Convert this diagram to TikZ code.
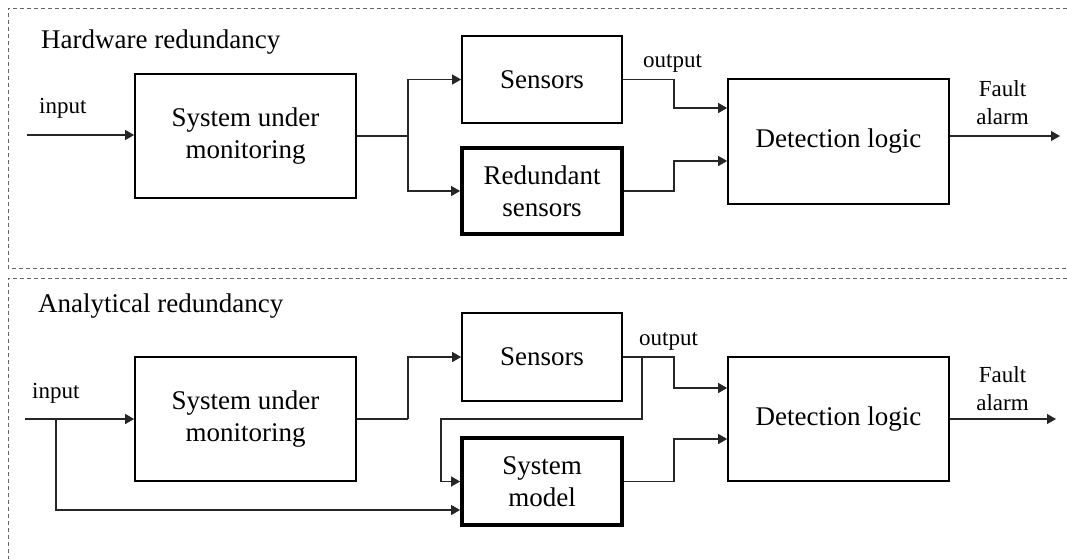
\documentclass[tikz,border=0pt]{standalone}
\usepackage{fontspec}
\setmainfont{Liberation Serif}
\usetikzlibrary{arrows.meta}
\begin{document}
\begin{tikzpicture}[x=1pt,y=-1pt,
  blk/.style={draw=black, line width=1.7pt, align=center, inner sep=0pt,
              font=\fontsize{27}{32}\selectfont},
  thickblk/.style={blk, line width=3.8pt},
  conn/.style={line width=1.2pt, draw=black!85},
  arr/.style={conn, -{Triangle[length=9pt,width=10pt]}},
  lbl/.style={font=\fontsize{23}{27.5}\selectfont, inner sep=0pt},
  ttl/.style={font=\fontsize{27}{32}\selectfont, inner sep=0pt},
  frame/.style={draw=black!60, line width=1pt, dash pattern=on 4pt off 3pt}]
\useasboundingbox (0,0) rectangle (1067,558);

% ---------- dashed section frames ----------
\draw[frame] (1067,8) -- (8,8) -- (8,268) -- (1067,268);
\draw[frame] (1067,278) -- (8,278) -- (8,560);

% ================= Hardware redundancy =================
\node[ttl, anchor=base west] (t1) at (41,48) {Hardware redundancy};

\node[blk, minimum width=221pt, minimum height=124pt] (sum1) at (245.5,136) {System under\\monitoring};
\node[blk, minimum width=160pt, minimum height=87pt] (sen1) at (542,79.5) {Sensors};
\node[thickblk, minimum width=160pt, minimum height=86pt] (red1) at (542,191) {Redundant\\sensors};
\node[blk, minimum width=221pt, minimum height=125pt] (dl1) at (838.5,141.5) {Detection logic};

\node[lbl, anchor=base west] (in1l) at (39,113) {input};
\node[lbl, anchor=base west] (out1l) at (643,67) {output};
\node[lbl, align=center] (fa1) at (1002.5,102.5) {Fault\\alarm};

\coordinate (in1) at (27,135);
\coordinate (br1) at (408,136);
\coordinate (j1) at (674,108);
\coordinate (j2) at (674,161);
\coordinate (o1) at (1060,136);

\draw[arr] (in1) -- (in1 -| sum1.west);
\draw[conn] (sum1.east) -- (br1);
\draw[arr] (br1) |- (sen1.west);
\draw[arr] (br1) |- (red1.west);
\draw[arr] (sen1.east) -| (j1) -- (j1 -| dl1.west);
\draw[arr] (red1.east) -| (j2) -- (j2 -| dl1.west);
\draw[arr] (o1 -| dl1.east) -- (o1);

% ================= Analytical redundancy =================
\node[ttl, anchor=base west] (t2) at (38,312) {Analytical redundancy};

\node[blk, minimum width=221pt, minimum height=124pt] (sum2) at (245.5,419) {System under\\monitoring};
\node[blk, minimum width=160pt, minimum height=88pt] (sen2) at (542,357) {Sensors};
\node[thickblk, minimum width=160pt, minimum height=87pt] (sm2) at (542,481.5) {System\\model};
\node[blk, minimum width=221pt, minimum height=124pt] (dl2) at (838.5,419) {Detection logic};

\node[lbl, anchor=base west] (in2l) at (32,398) {input};
\node[lbl, anchor=base west] (out2l) at (639,345) {output};
\node[lbl, align=center] (fa2) at (1002.5,388.5) {Fault\\alarm};

\coordinate (in2) at (25,419);
\coordinate (ib1) at (56,419);
\coordinate (ib2) at (56,510);
\coordinate (br2) at (408,419);
\coordinate (tap) at (642,357);
\coordinate (fb1) at (642,419);
\coordinate (fb2) at (441,419);
\coordinate (j3) at (674,388);
\coordinate (j4) at (674,439);
\coordinate (o2) at (1056,419);

\draw[arr] (in2) -- (in2 -| sum2.west);
\draw[arr] (ib1) -- (ib2) -- (ib2 -| sm2.west);
\draw[conn] (sum2.east) -- (br2);
\draw[arr] (br2) |- (sen2.west);
\draw[arr] (sen2.east) -| (j3) -- (j3 -| dl2.west);
\draw[arr] (tap) -- (fb1) -- (fb2) |- (sm2.west);
\draw[arr] (sm2.east) -| (j4) -- (j4 -| dl2.west);
\draw[arr] (o2 -| dl2.east) -- (o2);
\end{tikzpicture}
\end{document}
